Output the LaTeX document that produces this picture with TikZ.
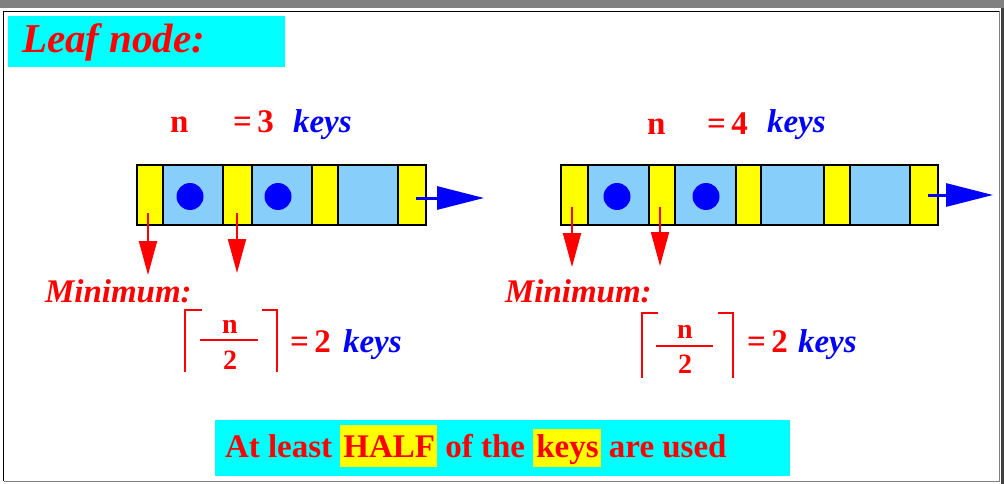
\documentclass[tikz,border=0pt]{standalone}
\usepackage{fontspec}
\setmainfont{Liberation Serif}
\usetikzlibrary{arrows.meta}
\definecolor{cy}{HTML}{00FFFF}
\definecolor{yl}{HTML}{FFFF00}
\definecolor{lb}{HTML}{87CEFA}
\definecolor{rd}{HTML}{FF0000}
\definecolor{bl}{HTML}{0000FF}
\definecolor{frgray}{HTML}{808080}
\definecolor{frdark}{HTML}{404040}
\newcommand\hlword[3]{{\setlength{\fboxsep}{0pt}\colorbox{yl}{\hspace{3pt}\rule[-#2]{0pt}{#3}#1\hspace{2pt}}}}
\tikzset{
  cellbase/.style={draw=black, line width=1.5pt, anchor=north west, minimum height=60pt, inner sep=0pt, outer sep=0pt},
  ycell/.style={cellbase, fill=yl},
  bcell/.style={cellbase, fill=lb},
  keydot/.style={circle, fill=bl, minimum size=27pt, inner sep=0pt},
  txt/.style={inner sep=0pt, outer sep=0pt, anchor=base west},
  rtxt/.style={txt, text=rd, font=\fontsize{33}{36}\selectfont\bfseries},
  btxt/.style={txt, text=bl, font=\fontsize{33}{36}\selectfont\bfseries\itshape},
  rit/.style={txt, text=rd, font=\fontsize{33}{36}\selectfont\bfseries\itshape},
  frac/.style={inner sep=0pt, outer sep=0pt, anchor=base, text=rd, font=\fontsize{28}{30}\selectfont\bfseries},
  ceilline/.style={draw=rd, line width=2pt},
  parr/.style={draw=rd, line width=2pt, -{Triangle[length=34pt,width=18pt]}},
  narr/.style={draw=bl, line width=3pt, -{Triangle[length=47pt,width=23pt]}},
}
\begin{document}
\begin{tikzpicture}[x=1pt, y=-1pt]
\useasboundingbox (0,0) rectangle (1004,484);
% window frame
\fill[frgray] (0,0) rectangle (1004,8);
\draw[black, line width=1pt] (3.5,481) -- (3.5,11.5) -- (999,11.5);
\draw[frgray, line width=1pt] (999,11.5) -- (999,481) -- (3.5,481);
\fill[frdark] (1001,8) rectangle (1004,484);

% title
\fill[cy] (8,16) rectangle (285,67);
\node[txt, text=rd, font=\fontsize{41}{44}\selectfont\bfseries\itshape] (title) at (22,53) {Leaf node:};

% left leaf node (n = 3)
\node[rtxt] (ln) at (170,133) {n};
\node[rtxt] (leq) at (233,133) {=\,3};
\node[btxt] (lk) at (293,133) {keys};
\foreach \x/\w/\s [count=\i] in {137/26/ycell,163/60/bcell,223/29/ycell,252/60/bcell,312/26/ycell,338/60/bcell,398/28/ycell}
  \node[\s, minimum width=\w pt] (L\i) at (\x,165) {};
\node[keydot] (ld1) at (190,196.5) {};
\node[keydot] (ld2) at (278,196.5) {};
\coordinate (lp1s) at (148,213); \coordinate (lp1e) at (148,275);
\coordinate (lp2s) at (237,213); \coordinate (lp2e) at (237,273);
\draw[parr] (lp1s) -- (lp1e);
\draw[parr] (lp2s) -- (lp2e);
\coordinate (lns) at (416,198); \coordinate (lne) at (484,198);
\draw[narr] (lns) -- (lne);

% right leaf node (n = 4)
\node[rtxt] (rn) at (647,135) {n};
\node[rtxt] (req) at (707,135) {=\,4};
\node[btxt] (rk) at (767,133) {keys};
\foreach \x/\w/\s [count=\i] in {561/27/ycell,588/61/bcell,649/26/ycell,675/61/bcell,736/25/ycell,761/63/bcell,824/26/ycell,850/60/bcell,910/28/ycell}
  \node[\s, minimum width=\w pt] (R\i) at (\x,165) {};
\node[keydot] (rd1) at (617,196.5) {};
\node[keydot] (rd2) at (706,196.5) {};
\coordinate (rp1s) at (572,207); \coordinate (rp1e) at (572,267);
\coordinate (rp2s) at (660,207); \coordinate (rp2e) at (660,266);
\draw[parr] (rp1s) -- (rp1e);
\draw[parr] (rp2s) -- (rp2e);
\coordinate (rns) at (928,195); \coordinate (rne) at (993,195);
\draw[narr] (rns) -- (rne);

% left minimum
\node[rit] (lmin) at (45,302) {Minimum:};
\draw[ceilline] (202,310) -- (185,310) -- (185,372);
\draw[ceilline] (262,310) -- (277,310) -- (277,372);
\draw[ceilline] (200,340) -- (258,340);
\node[frac] (lfn) at (230,333) {n};
\node[frac] (lfd) at (230,369) {2};
\node[rtxt] (leq2) at (290,352) {=\,2};
\node[btxt] (lk2) at (343,352) {keys};

% right minimum
\node[rit] (rmin) at (505,302) {Minimum:};
\draw[ceilline] (658,313) -- (642,313) -- (642,378);
\draw[ceilline] (718,313) -- (733,313) -- (733,378);
\draw[ceilline] (656,346) -- (713,346);
\node[frac] (rfn) at (685,338) {n};
\node[frac] (rfd) at (685,373) {2};
\node[rtxt] (req2) at (747,352) {=\,2};
\node[btxt] (rk2) at (798,352) {keys};

% bottom note
\fill[cy] (215,420) rectangle (790,476);
\node[txt, text=rd, font=\fontsize{33}{36}\selectfont\bfseries] (note) at (225,457)
  {At least \hlword{HALF}{10pt}{42pt} of the \hlword{keys}{10pt}{38pt} are used};
\end{tikzpicture}
\end{document}
